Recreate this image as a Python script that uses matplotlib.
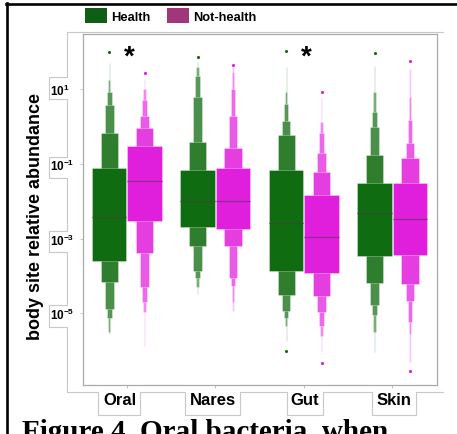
import matplotlib
matplotlib.use("Agg")
import matplotlib.pyplot as plt
from matplotlib.lines import Line2D
from matplotlib.patches import Patch
from matplotlib.transforms import ScaledTranslation
import numpy as np

plt.rcParams['font.family'] = ['Liberation Sans', 'DejaVu Sans']
plt.rcParams['mathtext.fontset'] = 'custom'
plt.rcParams['mathtext.bf'] = 'Liberation Sans:bold'
plt.rcParams['mathtext.rm'] = 'Liberation Sans'

# ---------------- data (log10 relative abundance) ----------------
categories = ["Oral", "Nares", "Gut", "Skin"]
groups = ["Health", "Not-health"]

# letter-value boxes: level 1 (widest) ... level 6 (thinnest)
health_upper = [[-1.11, -0.18, 0.58, 0.93, 1.25, 1.70],
                [-1.16, -0.41, 0.79, 1.36, 1.58, 1.72],
                [-1.16, -0.22, 0.15, 0.60, 0.91, 1.58],
                [-1.52, -0.77, -0.01, 0.38, 0.91, 1.62]]
health_lower = [[-3.59, -4.17, -4.88, -5.12, -5.50, -5.55],
                [-2.70, -3.19, -3.87, -4.06, -4.30, -4.48],
                [-3.87, -4.51, -4.93, -5.13, -5.35, -5.73],
                [-3.47, -4.19, -4.78, -5.04, -5.50, -6.04]]
health_median = [-2.43, -2.00, -2.59, -2.32]
health_out_high = [2.00, 1.85, 2.01, 1.96]
health_out_low = [None, None, -6.00, None]

nothealth_upper = [[-0.53, -0.04, 0.29, 0.71, 1.00, 1.27],
                   [-1.12, -0.59, 0.29, 1.00, 1.45, 1.58],
                   [-1.83, -1.21, -0.71, -0.18, 0.13, 0.78],
                   [-1.52, -0.85, -0.45, 0.17, 0.78, 1.54]]
nothealth_lower = [[-2.52, -3.39, -4.30, -4.69, -4.97, -5.86],
                   [-2.73, -3.19, -4.05, -4.26, -4.70, -4.93],
                   [-3.92, -4.53, -4.97, -5.35, -5.60, -6.04],
                   [-3.44, -4.21, -4.66, -5.22, -5.55, -6.31]]
nothealth_median = [-1.45, -1.99, -2.95, -2.48]
nothealth_out_high = [1.42, 1.64, 0.93, 1.76]
nothealth_out_low = [None, None, -6.33, -6.53]

significant = ["Oral", "Gut"]
ytick_exps = [1, -1, -3, -5]

# ---------------- styles ----------------
level_widths = [0.39, 0.195, 0.098, 0.052, 0.028, 0.014]
green_levels = ['#106C10', '#2E7E2E', '#4A904A', '#559855', '#76AE76', '#BBD8BB']
mag_levels = ['#E01FDC', '#E43EE1', '#E95BE7', '#EC6AEA', '#F08AEF', '#F7C8F6']
green_med = '#2F4F2F'
mag_med = '#902A8E'

W, H = 457, 435
fig = plt.figure(figsize=(W / 100, H / 100), dpi=100)

def fx(px):
    return px / W

def fy(py):
    return 1 - py / H

ax_l, ax_r, ax_t, ax_b = 82.7, 436.5, 35.0, 386.3
ax = fig.add_axes([fx(ax_l), fy(ax_b), (ax_r - ax_l) / W, (ax_b - ax_t) / H])
ax.set_yscale('log')

def draw_group(offset, upper, lower, median, out_hi, out_lo, colors, medc):
    for i in range(len(categories)):
        xc = i + offset
        for lvl in range(len(level_widths) - 1, -1, -1):
            lo = 10 ** lower[i][lvl]
            hi = 10 ** upper[i][lvl]
            ax.bar(xc, hi - lo, bottom=lo, width=level_widths[lvl],
                   color=colors[lvl], edgecolor=(1, 1, 1, 0.35),
                   linewidth=0.6, zorder=2 + (6 - lvl) * 0.1)
        ax.hlines(10 ** median[i], xc - level_widths[0] / 2, xc + level_widths[0] / 2,
                  color=medc, linewidth=0.9, zorder=4)
        ax.scatter([xc], [10 ** out_hi[i]], s=5, color=colors[0], zorder=4, linewidths=0)
        if out_lo[i] is not None:
            ax.scatter([xc], [10 ** out_lo[i]], s=5, color=colors[0], zorder=4, linewidths=0)

draw_group(-0.2, health_upper, health_lower, health_median,
           health_out_high, health_out_low, green_levels, green_med)
draw_group(0.2, nothealth_upper, nothealth_lower, nothealth_median,
           nothealth_out_high, nothealth_out_low, mag_levels, mag_med)

for name in significant:
    ax.text(categories.index(name) + 0.03, 10 ** 1.68, "*", ha='center', va='baseline',
            fontsize=20, fontweight='bold', color='black', zorder=5)

ax.set_xlim(-0.5, 3.5)
top_v = 1 + (90 - ax_t) / 37.4
bot_v = 1 - (ax_b - 90) / 37.4
ax.set_ylim(10 ** bot_v, 10 ** top_v)

ax.set_yticks([10.0 ** e for e in ytick_exps])
ax.set_yticklabels([r'$\mathbf{10^{%d}}$' % e for e in ytick_exps], fontsize=8.5)
ax.yaxis.set_minor_locator(matplotlib.ticker.NullLocator())
for lab in ax.get_yticklabels():
    lab.set_horizontalalignment('left')
ax.set_xticks(range(len(categories)))
ax.set_xticklabels(categories, fontsize=12, fontweight='bold')
ax.tick_params(axis='y', length=2.5, width=0.6, color='#BBBBBB', pad=21)
ax.tick_params(axis='x', length=2, width=0.6, color='#BBBBBB', pad=3)
# shift x labels to sit inside their boxes
label_shift = [-7, -2, 1, 2]
for lab, s in zip(ax.get_xticklabels(), label_shift):
    lab.set_transform(lab.get_transform() + ScaledTranslation(s / 100, 0, fig.dpi_scale_trans))

for sp in ax.spines.values():
    sp.set_color('#AAAAAA')
    sp.set_linewidth(0.9)

fig.text(fx(35.5), fy(217), "body site relative abundance", rotation=90,
         ha='center', va='center', fontsize=13, fontweight='bold')

# legend
handles = [Patch(facecolor='#0E5E16', edgecolor='none'),
           Patch(facecolor='#A0377A', edgecolor='none')]
fig.legend(handles, groups, loc='upper left', bbox_to_anchor=(fx(85), fy(8.5)),
           ncol=2, frameon=False, borderaxespad=0, borderpad=0,
           handlelength=1.7, handleheight=1.5, handletextpad=0.3,
           columnspacing=1.3, prop={'weight': 'bold', 'size': 9.3})

# decorative gray outline around tick labels (screenshot frame)
gx = [66.7, 66.7, 49, 49, 66.7, 66.7, 49, 49, 66.7, 66.7, 49, 49, 66.7, 66.7, 49, 49, 66.7, 66.7,
      98.3, 98.3, 140, 140, 185, 185, 240, 240, 286.7, 286.7, 322.7, 322.7, 371.7, 371.7, 416, 416, 443]
gy = [32.7, 78.3, 78.3, 100, 100, 157.7, 157.7, 179.3, 179.3, 231.7, 231.7, 252.7, 252.7, 306, 306,
      328.3, 328.3, 393.3, 393.3, 415.5, 415.5, 393.3, 393.3, 415.5, 415.5, 393.3, 393.3, 415.5,
      415.5, 393.3, 393.3, 415.5, 415.5, 393.3, 393.3]
fig.add_artist(Line2D([fx(v) for v in gx], [fy(v) for v in gy], color='#C8C8C8', lw=0.8))
fig.add_artist(Line2D([fx(66.7), fx(443)], [fy(32.7), fy(32.7)], color='#C8C8C8', lw=0.8))

# black page borders
fig.add_artist(Line2D([fx(6.5), fx(6.5)], [fy(4), fy(435)], color='black', lw=1.9))
fig.add_artist(Line2D([fx(5.5), fx(457)], [fy(5.2), fy(5.2)], color='black', lw=1.9))

# caption (cut off at the bottom)
fig.text(fx(22), fy(440), "Figure 4. Oral bacteria, when", fontsize=21,
         family=['Liberation Serif', 'DejaVu Serif'], fontweight='bold', va='baseline', ha='left')

fig.savefig("out.png", dpi=100)
